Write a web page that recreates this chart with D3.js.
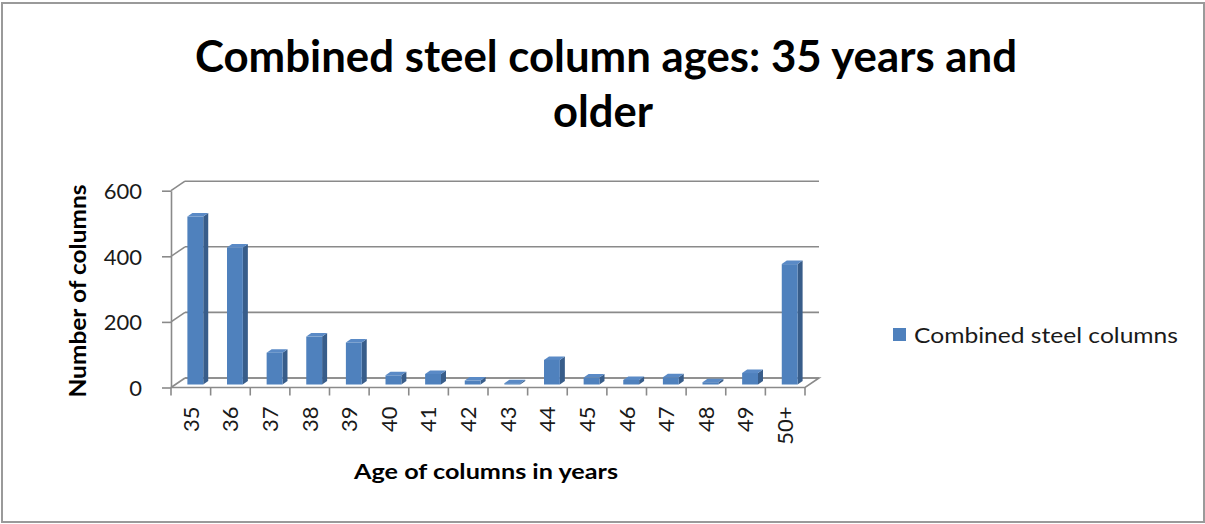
<!DOCTYPE html>
<html>
<head>
<meta charset="utf-8">
<script src="https://cdn.jsdelivr.net/npm/d3@7"></script>
<style>
  html, body { margin: 0; padding: 0; background: #fff; }
  svg { display: block; }
  text { font-family: Lato, "Open Sans", sans-serif; }
</style>
</head>
<body>
<div id="chart"></div>
<script>
const categories = ["35", "36", "37", "38", "39", "40", "41", "42", "43", "44", "45", "46", "47", "48", "49", "50+"];
const columnCounts = [512, 418, 97, 146, 128, 28, 32, 12, 4, 75, 21, 14, 22, 7, 35, 367];
const yTicks = [0, 200, 400, 600];
const seriesName = "Combined steel columns";
const titleLines = ["Combined steel column ages: 35 years and", "older"];

const width = 1205, height = 524;

// 3D look: wall depth offset and bar depth offset
const wallDx = 14, wallDy = -9.5;
const barDx = 5, barDy = -3.5;

const svg = d3.select("#chart")
    .append("svg")
    .attr("width", width)
    .attr("height", height);

// outer frame
svg.append("rect")
    .attr("x", 2).attr("y", 3)
    .attr("width", 1202).attr("height", 519)
    .attr("fill", "#fff")
    .attr("stroke", "#9a9a9a")
    .attr("stroke-width", 2);

const x = d3.scaleBand()
    .domain(categories)
    .range([171, 805])
    .padding(0);

const y = d3.scaleLinear()
    .domain([0, 600])
    .range([387.5, 190.7]);

const gridColor = "#8a8a8a";

// back wall gridlines + side wall diagonals
const grid = svg.append("g");
yTicks.forEach(t => {
    grid.append("line")
        .attr("x1", 171 + wallDx).attr("x2", 805 + wallDx)
        .attr("y1", y(t) + wallDy).attr("y2", y(t) + wallDy)
        .attr("stroke", gridColor).attr("stroke-width", 1.6);
    grid.append("line")
        .attr("x1", 171).attr("x2", 171 + wallDx)
        .attr("y1", y(t)).attr("y2", y(t) + wallDy)
        .attr("stroke", gridColor).attr("stroke-width", 1.6);
});

// floor outline
svg.append("path")
    .attr("d", `M171,${y(0)} L805,${y(0)} L${805 + wallDx},${y(0) + wallDy} L${171 + wallDx},${y(0) + wallDy}`)
    .attr("fill", "none")
    .attr("stroke", gridColor)
    .attr("stroke-width", 1.6);

// y axis
const yAxis = svg.append("g")
    .attr("transform", "translate(171,0)")
    .call(d3.axisLeft(y).tickValues(yTicks).tickSize(9).tickPadding(20).tickSizeOuter(0));
yAxis.select(".domain").attr("stroke", gridColor).attr("stroke-width", 1.6);
yAxis.selectAll(".tick line").attr("stroke", gridColor).attr("stroke-width", 1.6);
yAxis.selectAll(".tick text")
    .attr("fill", "#1a1a1a")
    .style("font-size", "22px")
    .attr("dy", "0.36em");

// x axis: ticks at category boundaries, labels at centres
const xAxis = svg.append("g")
    .attr("transform", `translate(0,${y(0)})`)
    .call(d3.axisBottom(x).tickSize(0).tickPadding(0));
xAxis.select(".domain").remove();
xAxis.selectAll(".tick text")
    .attr("transform", "translate(0,19) rotate(-90)")
    .attr("text-anchor", "end")
    .attr("x", 0).attr("y", 0)
    .attr("dy", "0.36em")
    .attr("fill", "#1a1a1a")
    .style("font-size", "22px");

const bounds = categories.map(c => x(c)).concat([x(categories[categories.length - 1]) + x.bandwidth()]);
svg.append("g").selectAll("line")
    .data(bounds)
    .enter().append("line")
    .attr("x1", d => d).attr("x2", d => d)
    .attr("y1", y(0)).attr("y2", y(0) + 8)
    .attr("stroke", gridColor).attr("stroke-width", 1.6);

// bars
const barW = x.bandwidth() / 2.5;
const offX = (wallDx - barDx) / 2, offY = (wallDy - barDy) / 2;
const bars = svg.append("g").selectAll("g")
    .data(categories.map((c, i) => ({ c, v: columnCounts[i] })))
    .enter().append("g");

bars.each(function(d) {
    const g = d3.select(this);
    const x0 = x(d.c) + (x.bandwidth() - barW) / 2 + offX;
    const x1 = x0 + barW;
    const yb = y(0) + offY;
    const yt = y(d.v) + offY;
    g.append("path")
        .attr("d", `M${x1},${yt} L${x1 + barDx},${yt + barDy} L${x1 + barDx},${yb + barDy} L${x1},${yb} Z`)
        .attr("fill", "#385d8a");
    g.append("path")
        .attr("d", `M${x0},${yt} L${x0 + barDx},${yt + barDy} L${x1 + barDx},${yt + barDy} L${x1},${yt} Z`)
        .attr("fill", "#5a8ac6");
    g.append("rect")
        .attr("x", x0).attr("y", yt)
        .attr("width", barW).attr("height", yb - yt)
        .attr("fill", "#4f81bd");
});

// title
svg.append("g").selectAll("text")
    .data(titleLines)
    .enter().append("text")
    .attr("x", (d, i) => i === 0 ? 195 : 553)
    .attr("y", (d, i) => i === 0 ? 71.5 : 127)
    .attr("textLength", (d, i) => i === 0 ? 822 : 100)
    .attr("lengthAdjust", "spacingAndGlyphs")
    .style("font-size", "43px")
    .style("font-weight", "bold")
    .attr("fill", "#000")
    .text(d => d);

// axis titles
svg.append("text")
    .attr("transform", "translate(86,291) rotate(-90)")
    .attr("text-anchor", "middle")
    .attr("textLength", 213)
    .attr("lengthAdjust", "spacingAndGlyphs")
    .style("font-size", "22px")
    .style("font-weight", "bold")
    .attr("fill", "#000")
    .text("Number of columns");

svg.append("text")
    .attr("x", 486).attr("y", 479)
    .attr("text-anchor", "middle")
    .attr("textLength", 264)
    .attr("lengthAdjust", "spacingAndGlyphs")
    .style("font-size", "21px")
    .style("font-weight", "bold")
    .attr("fill", "#000")
    .text("Age of columns in years");

// legend
const legend = svg.append("g").attr("transform", "translate(893,328)");
legend.append("rect")
    .attr("width", 13).attr("height", 13)
    .attr("fill", "#4f81bd");
legend.append("text")
    .attr("x", 21).attr("y", 7)
    .attr("dy", "0.36em")
    .attr("textLength", 264)
    .attr("lengthAdjust", "spacingAndGlyphs")
    .style("font-size", "22px")
    .attr("fill", "#1a1a1a")
    .text(seriesName);
</script>
</body>
</html>
